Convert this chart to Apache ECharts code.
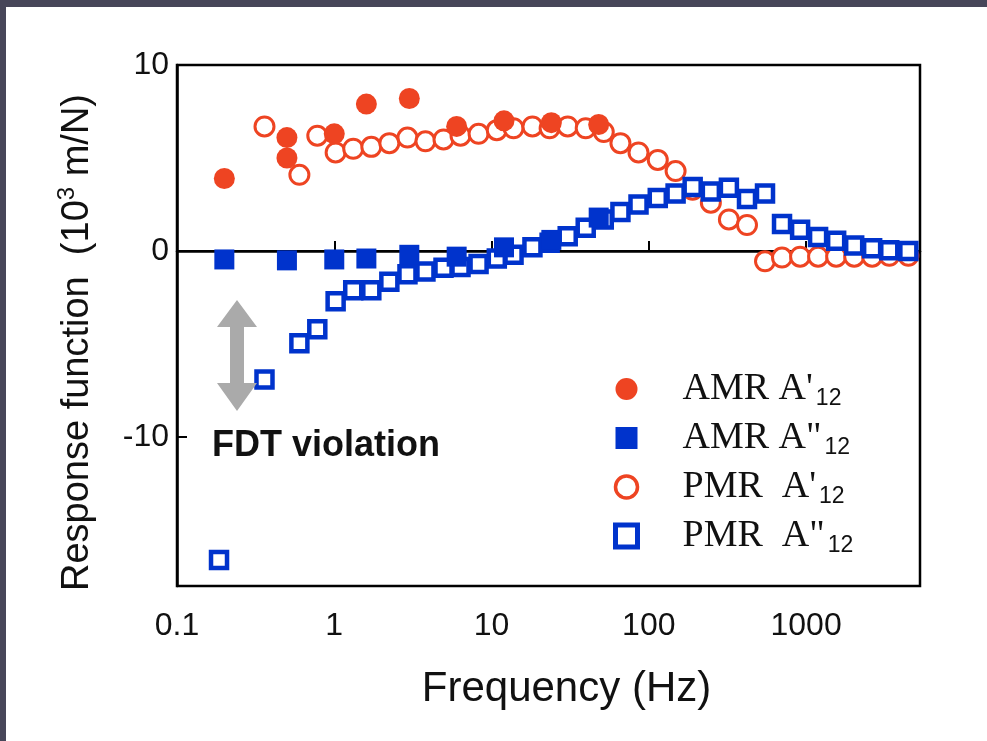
<!DOCTYPE html>
<html><head><meta charset="utf-8">
<script src="https://cdn.jsdelivr.net/npm/echarts@6/dist/echarts.min.js"></script>
<style>html,body{margin:0;padding:0;background:#fff}#c{width:987px;height:741px}</style>
</head><body><div id="c"></div>
<script>
// ---- data ----
const amrRealX = [0.2, 0.5, 0.5, 1, 1.6, 3, 6, 12, 24, 48];
const amrRealY = [3.9, 6.1, 5.0, 6.3, 7.9, 8.2, 6.7, 7.0, 6.9, 6.8];
const amrImagX = [0.2, 0.5, 1, 1.6, 3, 6, 12, 24, 48];
const amrImagY = [-0.45, -0.5, -0.45, -0.4, -0.2, -0.3, 0.2, 0.6, 1.8];
const pmrRealX = [0.36, 0.6, 0.78, 1.02, 1.32, 1.72, 2.24, 2.92, 3.8, 4.95, 6.35, 8.27, 10.8, 13.8, 18.2, 23.4, 30.5, 39.7, 51.7, 66, 86, 114, 148, 190, 248, 323, 421, 548, 703, 916, 1192, 1553, 2022, 2630, 3380, 4470];
const pmrRealY = [6.7, 4.1, 6.2, 5.3, 5.5, 5.6, 5.8, 6.1, 5.9, 6.0, 6.2, 6.3, 6.5, 6.6, 6.7, 6.6, 6.7, 6.6, 6.4, 5.8, 5.3, 4.9, 4.3, 3.3, 2.6, 1.7, 1.4, -0.55, -0.35, -0.3, -0.3, -0.3, -0.3, -0.3, -0.25, -0.25];
const pmrImagX = [0.185, 0.36, 0.6, 0.78, 1.02, 1.32, 1.72, 2.24, 2.92, 3.8, 4.95, 6.35, 8.27, 10.8, 13.8, 18.2, 23.4, 30.5, 39.7, 51.7, 66, 86, 114, 148, 190, 248, 323, 421, 548, 703, 916, 1192, 1553, 2022, 2630, 3380, 4470];
const pmrImagY = [-16.6, -6.9, -4.95, -4.2, -2.7, -2.1, -2.1, -1.65, -1.25, -1.1, -0.9, -0.85, -0.7, -0.4, -0.2, 0.2, 0.45, 0.8, 1.25, 1.7, 2.1, 2.5, 2.85, 3.1, 3.45, 3.2, 3.4, 2.8, 3.1, 1.45, 1.15, 0.75, 0.55, 0.3, 0.15, 0.05, 0.0];
const seriesNames = ["AMR A'", 'AMR A"', "PMR  A'", 'PMR  A"'];
const xTickLabels = ['0.1', '1', '10', '100', '1000'];
const yTickValues = [-10, 0, 10];

const RED = '#EE4422', BLUE = '#0033CC';
const pairs = (xs, ys) => xs.map((x, i) => [x, ys[i]]);
const sans = "'Liberation Sans Narrow','Liberation Sans',Arial,sans-serif";
const serif = "'Liberation Serif','Times New Roman',serif";

const chart = echarts.init(document.getElementById('c'), null, {renderer: 'canvas'});
chart.setOption({
  backgroundColor: '#fff',
  animation: false,
  grid: {left: 177, top: 65, right: 67, bottom: 155, show: true, borderColor: '#000', borderWidth: 2.5, backgroundColor: 'transparent'},
  xAxis: {
    type: 'log', logBase: 10, min: 0.1, max: 5300,
    axisLine: {show: true, lineStyle: {color: '#000', width: 2.5}},
    axisTick: {show: true, inside: true, length: 10, lineStyle: {color: '#000', width: 2}},
    minorTick: {show: false}, splitLine: {show: false},
    axisLabel: {
      showMaxLabel: false, margin: 24, color: '#111', fontSize: 32, fontFamily: sans,
      formatter: v => { const s = String(+(+v).toPrecision(6)); return xTickLabels.indexOf(s) >= 0 ? s : ''; }
    },
    name: 'Frequency (Hz)', nameLocation: 'middle', nameGap: 82,
    nameTextStyle: {fontSize: 42, color: '#111', fontFamily: sans, padding: [0, 0, 0, 36]}
  },
  yAxis: {
    type: 'value', min: -18, max: 10,
    axisLine: {show: true, lineStyle: {color: '#000', width: 2.5}},
    axisTick: {show: true, inside: true, length: 10, customValues: yTickValues, lineStyle: {color: '#000', width: 2}},
    splitLine: {show: false},
    axisLabel: {margin: 8, color: '#111', fontSize: 32, fontFamily: sans, customValues: yTickValues},
    name: '{t|Response function  (10}{s|3}{t| m/N)}', nameLocation: 'middle', nameGap: 76, nameRotate: 90,
    nameTextStyle: {
      color: '#111', padding: [0, 34, 0, 0],
      rich: {
        t: {fontSize: 38, fontFamily: sans, color: '#111', lineHeight: 46},
        s: {fontSize: 24, fontFamily: sans, color: '#111', verticalAlign: 'top', lineHeight: 46}
      }
    }
  },
  legend: {
    orient: 'vertical', left: 608, top: 363, itemWidth: 22, itemHeight: 22, itemGap: 7,
    data: [
      {name: seriesNames[0]},
      {name: seriesNames[1]},
      {name: seriesNames[2], itemStyle: {borderWidth: 3.5}},
      {name: seriesNames[3], itemStyle: {borderWidth: 5}}
    ],
    formatter: n => '{a|' + n + '}{b|12}',
    textStyle: {
      lineHeight: 42,
      rich: {
        a: {fontSize: 38, fontFamily: serif, color: '#111', padding: [0, 0, 0, 40], lineHeight: 42},
        b: {fontSize: 23, fontFamily: sans, color: '#111', verticalAlign: 'bottom', lineHeight: 42, padding: [12, 0, 0, 3]}
      }
    }
  },
  series: [
    {name: "PMR  A'", type: 'scatter', symbol: 'circle', symbolSize: 19, z: 2,
     itemStyle: {color: '#fff', borderColor: RED, borderWidth: 3, opacity: 1}, data: pairs(pmrRealX, pmrRealY),
     markLine: {silent: true, symbol: 'none', label: {show: false}, lineStyle: {color: '#000', width: 2, type: 'solid'}, data: [{yAxis: 0}], z: 1}},
    {name: 'PMR  A"', type: 'scatter', symbol: 'rect', symbolSize: 16, z: 3,
     itemStyle: {color: '#fff', borderColor: BLUE, borderWidth: 4.5, opacity: 1}, data: pairs(pmrImagX, pmrImagY)},
    {name: "AMR A'", type: 'scatter', symbol: 'circle', symbolSize: 21, z: 4,
     itemStyle: {color: RED, opacity: 1}, data: pairs(amrRealX, amrRealY)},
    {name: 'AMR A"', type: 'scatter', symbol: 'rect', symbolSize: 20, z: 5,
     itemStyle: {color: BLUE, opacity: 1}, data: pairs(amrImagX, amrImagY)}
  ],
  graphic: [
    {type: 'rect', left: 0, top: 0, shape: {width: 987, height: 7}, style: {fill: '#474659'}, z: 100},
    {type: 'rect', left: 0, top: 0, shape: {width: 6, height: 741}, style: {fill: '#474659'}, z: 100},
    {type: 'polygon', shape: {points: [[237, 300], [257, 327], [244, 327], [244, 383], [257, 383], [237, 411], [217, 383], [230, 383], [230, 327], [217, 327]]}, style: {fill: '#AAAAAA'}, z: 10},
    {type: 'text', left: 212, top: 428, style: {text: 'FDT violation', fontSize: 36, fontWeight: 'bold', fontFamily: "'Liberation Sans',Arial,sans-serif", fill: '#111'}, z: 10}
  ]
});
</script></body></html>
